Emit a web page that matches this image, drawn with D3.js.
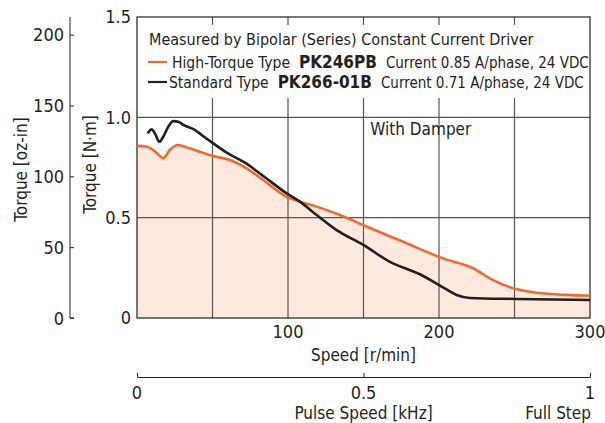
<!DOCTYPE html>
<html>
<head>
<meta charset="utf-8">
<script src="https://cdn.jsdelivr.net/npm/d3@7"></script>
<style>
  body { margin: 0; background: #fff; }
  text { font-family: "Liberation Sans Narrow", "DejaVu Sans Condensed", "Roboto", sans-serif; fill: #231f20; }
</style>
</head>
<body>
<svg id="chart" width="605" height="423"></svg>
<script>
// PK246PB (high-torque), speed r/min vs torque N·m
const hiSpeed  = [0, 6, 12, 17.4, 22, 27.4, 33, 39.5, 50.5, 61.6, 72.6, 83.6, 99.1, 107.9, 119, 134.4, 149.9, 161, 176.2, 202.6, 222.5, 235.8, 249.2, 264.7, 284.6, 300];
const hiTorque = [0.858, 0.855, 0.83, 0.796, 0.84, 0.862, 0.85, 0.834, 0.807, 0.787, 0.746, 0.688, 0.604, 0.58, 0.555, 0.513, 0.463, 0.427, 0.38, 0.297, 0.248, 0.189, 0.148, 0.126, 0.115, 0.111];
// PK266-01B (standard)
const stSpeed  = [7.1, 9.7, 11.9, 14.8, 17.4, 20.7, 24, 27.4, 30.7, 38.4, 42.8, 50.5, 59.4, 71.5, 83.6, 99.1, 107.9, 119, 132.2, 149.9, 167.5, 187.4, 202.6, 211.7, 220.5, 251.5, 300];
const stTorque = [0.92, 0.94, 0.92, 0.878, 0.903, 0.953, 0.981, 0.978, 0.962, 0.937, 0.912, 0.87, 0.824, 0.774, 0.708, 0.621, 0.58, 0.513, 0.438, 0.364, 0.28, 0.218, 0.153, 0.115, 0.1, 0.095, 0.09];

const speedTicks = [100, 200, 300];
const speedGrid = [50, 100, 150, 200, 250];
const nmTicks = [0, 0.5, 1.0, 1.5];
const nmGrid = [0.5, 1.0];
const ozTicks = [0, 50, 100, 150, 200];
const pulseTicks = [0, 0.5, 1];
const legendItems = [
  { color: "#f26a2b", pre: "High-Torque Type", model: "PK246PB", post: "Current 0.85 A/phase, 24 VDC" },
  { color: "#231f20", pre: "Standard Type", model: "PK266-01B", post: "Current 0.71 A/phase, 24 VDC" }
];
const NM_TO_OZIN = 141.612;

const svg = d3.select("#chart");
const margin = { top: 17, right: 15, bottom: 105, left: 137 };
const width = 605 - margin.left - margin.right;
const height = 423 - margin.top - margin.bottom;

const x = d3.scaleLinear().domain([0, 300]).range([margin.left, margin.left + width]);
const y = d3.scaleLinear().domain([0, 1.5]).range([margin.top + height, margin.top]);
const yOz = d3.scaleLinear().domain([0, 1.5 * NM_TO_OZIN]).range(y.range());
const xPulse = d3.scaleLinear().domain([0, 1]).range(x.range());

const hiData = hiSpeed.map((s, i) => [s, hiTorque[i]]);
const stData = stSpeed.map((s, i) => [s, stTorque[i]]);

// fill under high-torque curve
svg.append("path")
  .datum(hiData)
  .attr("fill", "#fde9dd")
  .attr("d", d3.area().x(d => x(d[0])).y0(y(0)).y1(d => y(d[1])).curve(d3.curveMonotoneX));

// grid
const grid = svg.append("g").attr("stroke", "#555").attr("stroke-width", 1.2);
grid.selectAll(".vg").data(speedGrid).enter().append("line")
  .attr("x1", d => x(d)).attr("x2", d => x(d))
  .attr("y1", y(1.5)).attr("y2", y(0));
grid.selectAll(".hg").data(nmGrid).enter().append("line")
  .attr("x1", x(0)).attr("x2", x(300))
  .attr("y1", d => y(d)).attr("y2", d => y(d));

// legend box hides the grid
svg.append("rect")
  .attr("x", x(0) + 1).attr("y", margin.top + 8)
  .attr("width", width - 2).attr("height", 73)
  .attr("fill", "#fff");

// frame
svg.append("rect")
  .attr("x", x(0)).attr("y", y(1.5))
  .attr("width", width).attr("height", height)
  .attr("fill", "none").attr("stroke", "#231f20").attr("stroke-width", 1.2);

// curves
const line = d3.line().x(d => x(d[0])).y(d => y(d[1])).curve(d3.curveMonotoneX);
svg.append("path").datum(hiData)
  .attr("fill", "none").attr("stroke", "#f26a2b").attr("stroke-width", 2.6)
  .attr("d", line);
svg.append("path").datum(stData)
  .attr("fill", "none").attr("stroke", "#231f20").attr("stroke-width", 2.6)
  .attr("d", line);

// N·m axis labels
svg.append("g").selectAll("text").data(nmTicks).enter().append("text")
  .attr("x", x(0) - 6).attr("y", d => y(d)).attr("dy", "0.35em")
  .attr("text-anchor", "end").style("font-size", "18px")
  .text(d => d === 0 ? "0" : d.toFixed(1));

// speed labels
svg.append("g").selectAll("text").data(speedTicks).enter().append("text")
  .attr("x", d => x(d)).attr("y", y(0) + 20)
  .attr("text-anchor", "middle").style("font-size", "18px")
  .text(d => d);

svg.append("text")
  .attr("x", x(150)).attr("y", y(0) + 43)
  .attr("text-anchor", "middle").style("font-size", "17px")
  .text("Speed [r/min]");

svg.append("text")
  .attr("transform", `translate(${x(0) - 41},${y(0.75) - 3})rotate(-90)`)
  .attr("text-anchor", "middle").style("font-size", "17px")
  .text("Torque [N·m]");

// oz-in axis
const ozAxis = svg.append("g")
  .attr("transform", "translate(70,0)")
  .call(d3.axisRight(yOz).tickValues(ozTicks).tickSize(4).tickFormat(() => ""));
ozAxis.select(".domain").attr("stroke", "#231f20").attr("d", `M4,${y(0)}H0V${y(1.5)}`);
ozAxis.selectAll(".tick line").attr("stroke", "#231f20");
ozAxis.selectAll(".tick").append("text")
  .attr("x", -6).attr("dy", "0.35em")
  .attr("text-anchor", "end").attr("fill", "#231f20")
  .style("font-size", "18px")
  .text(d => d);

svg.append("text")
  .attr("transform", `translate(27,${y(0.75) + 2})rotate(-90)`)
  .attr("text-anchor", "middle").style("font-size", "17px")
  .text("Torque [oz-in]");

// pulse speed axis
const pulseY = 377;
const pAxis = svg.append("g")
  .attr("transform", `translate(0,${pulseY})`)
  .call(d3.axisTop(xPulse).tickValues(pulseTicks).tickSize(4).tickSizeOuter(0).tickFormat(() => ""));
pAxis.select(".domain").attr("stroke", "#231f20");
pAxis.selectAll(".tick line").attr("stroke", "#231f20");
svg.append("g").selectAll("text").data(pulseTicks).enter().append("text")
  .attr("x", d => xPulse(d)).attr("y", pulseY + 22)
  .attr("text-anchor", "middle").style("font-size", "18px")
  .text(d => d);

svg.append("text")
  .attr("x", xPulse(0.5)).attr("y", pulseY + 42)
  .attr("text-anchor", "middle").style("font-size", "17px")
  .text("Pulse Speed [kHz]");
svg.append("text")
  .attr("x", xPulse(1) + 1).attr("y", pulseY + 42)
  .attr("text-anchor", "end").style("font-size", "17px")
  .text("Full Step");

// With Damper
svg.append("text")
  .attr("x", x(154.5)).attr("y", y(1.0) + 18)
  .style("font-size", "17px")
  .text("With Damper");

// legend
svg.append("text")
  .attr("x", x(0) + 12).attr("y", 45)
  .style("font-size", "16px")
  .text("Measured by Bipolar (Series) Constant Current Driver");

const lg = svg.append("g").selectAll("g").data(legendItems).enter().append("g")
  .attr("transform", (d, i) => `translate(${x(0) + 11},${68 + i * 20})`);
lg.append("line")
  .attr("x1", 0).attr("x2", 19).attr("y1", -6).attr("y2", -6)
  .attr("stroke", d => d.color).attr("stroke-width", 2.2);
const lt = lg.append("text").attr("x", (d, i) => i === 0 ? 24 : 21).style("font-size", "15.5px");
lt.append("tspan").text(d => d.pre);
lt.append("tspan").attr("dx", 9).style("font-weight", "bold").style("font-size", "17px").text(d => d.model);
lt.append("tspan").attr("dx", 9).style("font-size", "15px").text(d => d.post);
</script>
</body>
</html>
